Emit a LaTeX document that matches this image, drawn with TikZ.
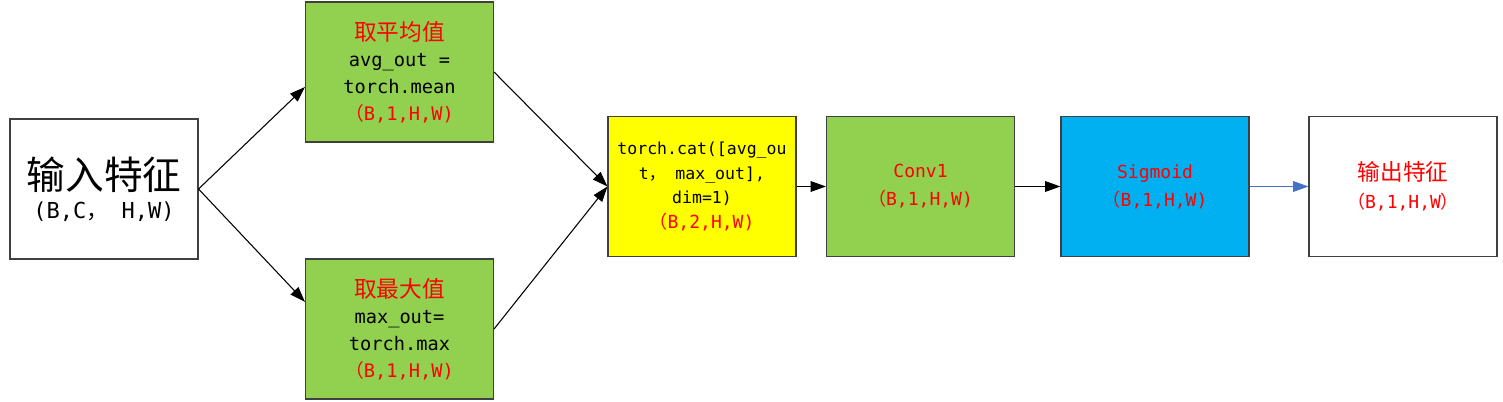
\documentclass[tikz,border=0pt]{standalone}
\usepackage{fontspec}
\setmainfont{DejaVu Sans Mono}
\newfontfamily\cjk{Noto Sans CJK SC}
\usetikzlibrary{arrows.meta,positioning}
\definecolor{boxgreen}{HTML}{92D050}
\definecolor{boxyellow}{HTML}{FFFF00}
\definecolor{boxblue}{HTML}{00B0F0}
\definecolor{linkblue}{HTML}{4472C4}
\definecolor{edgegray}{HTML}{404040}

\begin{document}
\begin{tikzpicture}[x=0.75pt, y=-0.75pt,
    font=\fontsize{14}{20}\selectfont,
    box/.style={draw=edgegray, line width=0.8pt, minimum width=141pt,
                minimum height=105pt, inner sep=0pt, align=center},
    hl/.style={text=red},
    flow/.style={-{Triangle[length=11.5pt,width=8pt]}, line width=0.8pt}]

  \useasboundingbox (0,0) rectangle (1503,402);

  \node[box] (inp) at (104,189)
    {{\cjk\fontsize{29}{34}\selectfont 输入特征}\\[2pt]
     {\fontsize{16.5}{20}\selectfont (B,C{\cjk ，} H,W)}};
  \node[box, fill=boxgreen] (avg) at (399.5,72)
    {{\cjk\fontsize{17}{20}\selectfont\color{red}取平均值}\\
     avg\_out =\\ torch.mean\\
     \textcolor{red}{{\cjk （}B,1,H,W)}};
  \node[box, fill=boxgreen] (mx) at (399.5,329)
    {{\cjk\fontsize{17}{20}\selectfont\color{red}取最大值}\\
     max\_out=\\ torch.max\\
     \textcolor{red}{{\cjk （}B,1,H,W)}};
  \node[box, fill=boxyellow, font=\fontsize{12.4}{18.7}\selectfont] (cat) at (702,186.5)
    {torch.cat([avg\_ou\\ t{\cjk ，} max\_out],\\ dim=1)\\
     \textcolor{red}{\fontsize{13.5}{18}\selectfont{\cjk （}B,2,H,W)}};
  \node[box, fill=boxgreen, text=red, font=\fontsize{13.5}{21}\selectfont] (conv) at (920.5,186.5)
    {Conv1\\ {\cjk （}B,1,H,W)};
  \node[box, fill=boxblue, text=red, font=\fontsize{13.5}{21}\selectfont] (sig) at (1155,186.5)
    {Sigmoid\\ {\cjk （}B,1,H,W)};
  \node[box, text=red, font=\fontsize{13.5}{21}\selectfont] (out) at (1403,186.5)
    {{\cjk\fontsize{17}{20}\selectfont 输出特征}\\ {\cjk （}B,1,H,W{\cjk ）}};

  \draw[flow] (inp.east) -- (avg.189);
  \draw[flow] (inp.east) -- (mx.164);
  \foreach \i/\j in {avg/cat, mx/cat, cat/conv, conv/sig}
    \draw[flow] (\i.east) -- (\j.west);
  \draw[flow, linkblue] (sig.east) -- (out.west);
\end{tikzpicture}
\end{document}
